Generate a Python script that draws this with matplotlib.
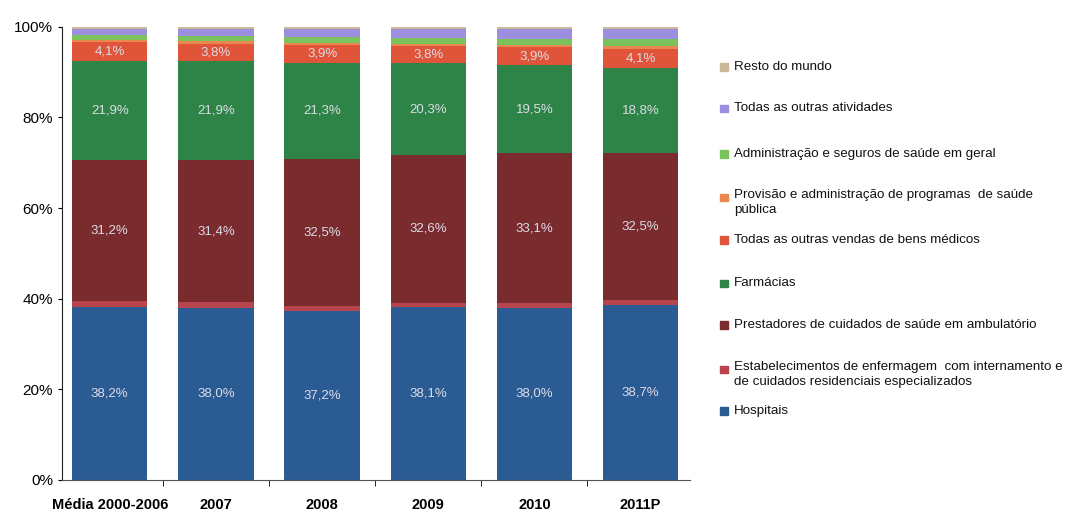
import numpy as np
import matplotlib.pyplot as plt
from matplotlib.patches import Rectangle

plt.rcParams['font.family'] = ['Liberation Sans', 'DejaVu Sans']

categories = ['Média 2000-2006', '2007', '2008', '2009', '2010', '2011P']

# stacked shares (%), bottom to top
hospitais = [38.2, 38.0, 37.2, 38.1, 38.0, 38.7]
estabelecimentos = [1.2, 1.2, 1.1, 1.0, 1.0, 1.0]
prestadores = [31.2, 31.4, 32.5, 32.6, 33.1, 32.5]
farmacias = [21.9, 21.9, 21.3, 20.3, 19.5, 18.8]
outras_vendas = [4.1, 3.8, 3.9, 3.8, 3.9, 4.1]
provisao = [0.5, 0.5, 0.5, 0.5, 0.5, 0.6]
administracao = [1.0, 1.1, 1.2, 1.3, 1.4, 1.6]
outras_atividades = [1.4, 1.6, 1.8, 1.9, 2.1, 2.1]
resto_mundo = [0.5, 0.5, 0.5, 0.5, 0.5, 0.6]

series = [
    ('Hospitais', hospitais, '#2b5b93'),
    ('Estabelecimentos de enfermagem  com internamento e\nde cuidados residenciais especializados', estabelecimentos, '#b8454e'),
    ('Prestadores de cuidados de saúde em ambulatório', prestadores, '#7a2b2e'),
    ('Farmácias', farmacias, '#2e8447'),
    ('Todas as outras vendas de bens médicos', outras_vendas, '#e0553a'),
    ('Provisão e administração de programas  de saúde\npública', provisao, '#e8884e'),
    ('Administração e seguros de saúde em geral', administracao, '#7cc25c'),
    ('Todas as outras atividades', outras_atividades, '#9c8fe0'),
    ('Resto do mundo', resto_mundo, '#cbb89a'),
]
labelled = {'Hospitais', 'Prestadores de cuidados de saúde em ambulatório',
            'Farmácias', 'Todas as outras vendas de bens médicos'}

fig = plt.figure(figsize=(10.78, 5.15), dpi=100)
ax = fig.add_axes([0.0575, 0.068, 0.583, 0.880])

x = np.arange(len(categories))
bottom = np.zeros(len(categories))
for name, vals, color in series:
    vals = np.array(vals)
    ax.bar(x, vals, bottom=bottom, width=0.71, color=color, edgecolor='none')
    if name in labelled:
        for xi, b, v in zip(x, bottom, vals):
            ax.text(xi, b + v / 2, f'{v:.1f}%'.replace('.', ','), ha='center', va='center',
                    fontsize=9.5, color='#dcdce6')
    bottom += vals

ax.set_ylim(0, 100)
ax.set_xlim(-0.45, 5.47)
ax.set_yticks(np.arange(0, 101, 20))
ax.set_yticklabels([f'{v}%' for v in range(0, 101, 20)], fontsize=11)
ax.set_xticks(x)
ax.set_xticklabels(categories, fontsize=10.5, fontweight='bold')
ax.tick_params(axis='x', length=0, pad=13)
ax.tick_params(axis='y', length=3, direction='out', width=0.8)
ax.set_xticks(x[:-1] + 0.5, minor=True)
ax.tick_params(axis='x', which='minor', length=4, direction='out')
for side in ['top', 'right']:
    ax.spines[side].set_visible(False)
ax.spines['left'].set_color('#222222')
ax.spines['bottom'].set_color('#555555')

# legend on the right, top to bottom (figure y of each entry's first line)
legend_y = [0.870, 0.790, 0.701, 0.617, 0.534, 0.450, 0.369, 0.283, 0.202]
for (name, _, color), ly in zip(reversed(series), legend_y):
    fig.patches.append(Rectangle((0.668, ly - 0.008), 0.007, 0.015, color=color,
                                 transform=fig.transFigure, figure=fig))
    if '\n' in name:
        fig.text(0.681, ly + 0.016, name, fontsize=9.6, va='top', ha='left',
                 color='#111111', linespacing=1.3)
    else:
        fig.text(0.681, ly, name, fontsize=9.6, va='center', ha='left', color='#111111')

fig.savefig('out.png', dpi=100)
